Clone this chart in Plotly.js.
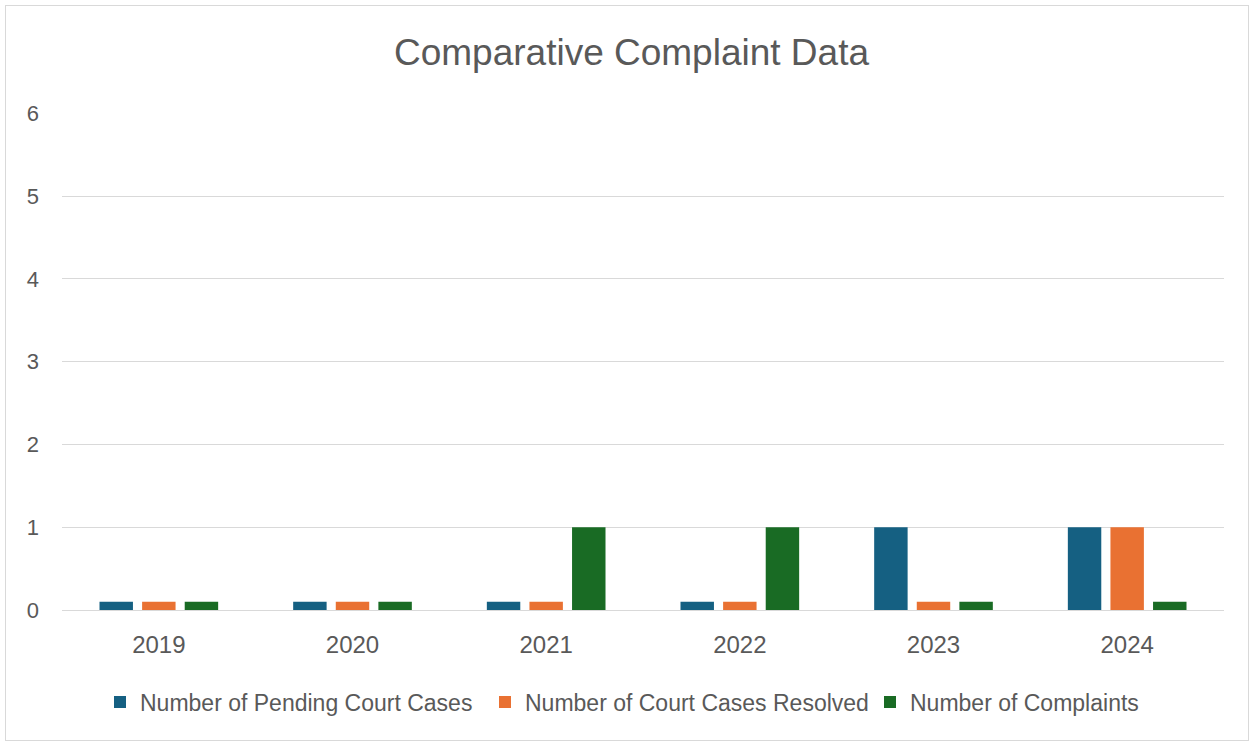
<!DOCTYPE html>
<html>
<head>
<meta charset="utf-8">
<script src="https://cdn.plot.ly/plotly-3.0.1.min.js"></script>
<style>
  html, body { margin: 0; padding: 0; background: #ffffff; }
  #frame { position: absolute; left: 5px; top: 5px; width: 1242px; height: 734px; border: 1px solid #d9d9d9; }
  #chart { position: absolute; left: 0; top: 0; width: 1251px; height: 743px; }
</style>
</head>
<body>
<div id="frame"></div>
<div id="chart"></div>
<script>
const years = ['2019', '2020', '2021', '2022', '2023', '2024'];
const pendingCases = [0.1, 0.1, 0.1, 0.1, 1, 1];
const resolvedCases = [0.1, 0.1, 0.1, 0.1, 0.1, 1];
const complaints = [0.1, 0.1, 1, 1, 0.1, 0.1];
const seriesNames = ['Number of Pending Court Cases', 'Number of Court Cases Resolved', 'Number of Complaints'];
const yTicks = [0, 1, 2, 3, 4, 5, 6];

const colors = ['#156082', '#E97132', '#196B24'];
const font = 'Arial, "Liberation Sans", sans-serif';
const series = [pendingCases, resolvedCases, complaints];

const data = series.map((vals, i) => ({
  type: 'bar',
  x: years,
  y: vals,
  name: seriesNames[i],
  marker: { color: colors[i], line: { width: 0 } },
  hoverinfo: 'x+y+name'
}));

const layout = {
  width: 1251,
  height: 743,
  paper_bgcolor: 'rgba(0,0,0,0)',
  plot_bgcolor: 'rgba(0,0,0,0)',
  margin: { l: 62, r: 27, t: 113, b: 133 },
  barmode: 'group',
  bargap: 0.34,
  bargroupgap: 0.215,
  title: {
    text: 'Comparative Complaint Data',
    font: { family: font, size: 37, color: '#595959' },
    x: 631.5 / 1251, xanchor: 'center', xref: 'container',
    y: 1 - 52 / 743, yref: 'container', yanchor: 'middle'
  },
  xaxis: {
    type: 'category',
    showgrid: false,
    showline: true,
    linecolor: '#d9d9d9',
    linewidth: 1,
    ticks: '',
    ticklabelstandoff: 13,
    tickfont: { family: font, size: 24, color: '#595959' },
    fixedrange: true
  },
  yaxis: {
    range: [0, 6.004],
    tickvals: yTicks,
    ticktext: yTicks.map(String),
    showgrid: true,
    gridcolor: '#d9d9d9',
    gridwidth: 1,
    zeroline: false,
    showline: false,
    ticks: '',
    ticklabelstandoff: 22,
    tickfont: { family: font, size: 22, color: '#595959' },
    fixedrange: true
  },
  showlegend: true,
  legend: {
    orientation: 'h',
    xref: 'container',
    yref: 'container',
    x: 100 / 1251, xanchor: 'left',
    y: 1 - 702 / 743, yanchor: 'middle',
    font: { family: font, size: 23, color: '#595959' },
    itemwidth: 30,
    entrywidth: 340,
    entrywidthmode: 'pixels',
    traceorder: 'normal'
  }
};

Plotly.newPlot('chart', data, layout, { displayModeBar: false });
</script>
</body>
</html>
